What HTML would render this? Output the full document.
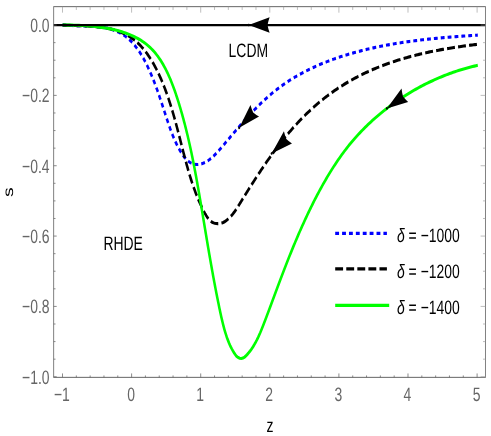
<!DOCTYPE html><html><head><meta charset="utf-8"><style>html,body{margin:0;padding:0;background:#fff}svg{display:block;will-change:transform}text{font-family:"Liberation Sans",sans-serif;text-rendering:geometricPrecision}</style></head><body>
<svg width="491" height="436" viewBox="0 0 491 436">
<rect width="491" height="436" fill="#fff"/>
<g transform="scale(0.8200 1)">
<path d="M76.34 25.00 L77.75 25.10 L79.18 25.20 L80.62 25.28 L82.08 25.35 L83.56 25.41 L85.05 25.47 L86.56 25.52 L88.08 25.56 L89.61 25.59 L91.16 25.63 L92.71 25.66 L94.28 25.68 L95.86 25.71 L97.44 25.74 L99.03 25.77 L100.63 25.80 L102.23 25.84 L103.84 25.88 L105.45 25.93 L107.06 25.98 L108.68 26.04 L110.30 26.11 L111.91 26.19 L113.53 26.28 L115.15 26.38 L116.76 26.50 L118.37 26.63 L119.97 26.77 L121.57 26.94 L123.17 27.12 L124.76 27.31 L126.33 27.53 L127.91 27.77 L129.47 28.03 L131.02 28.31 L132.56 28.62 L134.08 28.95 L135.60 29.30 L137.10 29.69 L138.58 30.10 L140.05 30.54 L141.51 31.01 L142.94 31.51 L144.36 32.05 L145.76 32.62 L147.13 33.22 L148.49 33.85 L149.83 34.53 L151.14 35.24 L152.43 35.99 L153.69 36.77 L154.94 37.59 L156.16 38.44 L157.36 39.32 L158.54 40.24 L159.71 41.18 L160.85 42.16 L161.97 43.16 L163.07 44.19 L164.15 45.25 L165.21 46.33 L166.25 47.44 L167.28 48.57 L168.29 49.72 L169.28 50.90 L170.25 52.09 L171.20 53.31 L172.14 54.54 L173.06 55.79 L173.97 57.06 L174.86 58.34 L175.73 59.64 L176.59 60.95 L177.43 62.27 L178.26 63.60 L179.08 64.95 L179.88 66.30 L180.67 67.66 L181.44 69.03 L182.20 70.41 L182.95 71.79 L183.69 73.17 L184.41 74.56 L185.12 75.95 L185.82 77.35 L186.51 78.74 L187.20 80.14 L187.87 81.54 L188.53 82.94 L189.18 84.35 L189.82 85.75 L190.46 87.16 L191.08 88.57 L191.70 89.98 L192.32 91.39 L192.92 92.81 L193.52 94.22 L194.12 95.64 L194.71 97.06 L195.30 98.48 L195.88 99.90 L196.46 101.32 L197.03 102.74 L197.61 104.17 L198.18 105.59 L198.74 107.01 L199.31 108.44 L199.88 109.86 L200.44 111.29 L201.01 112.72 L201.57 114.14 L202.14 115.57 L202.71 117.00 L203.28 118.42 L203.85 119.85 L204.42 121.28 L205.00 122.70 L205.59 124.12 L206.19 125.55 L206.79 126.96 L207.40 128.38 L208.02 129.79 L208.65 131.20 L209.30 132.61 L209.96 134.01 L210.64 135.40 L211.33 136.79 L212.03 138.17 L212.76 139.55 L213.50 140.92 L214.27 142.29 L215.05 143.64 L215.86 144.99 L216.69 146.33 L217.55 147.66 L218.43 148.99 L219.34 150.30 L220.27 151.60 L221.24 152.89 L222.23 154.15 L223.26 155.38 L224.33 156.57 L225.43 157.70 L226.56 158.78 L227.74 159.78 L228.96 160.71 L230.22 161.55 L231.53 162.29 L232.88 162.93 L234.27 163.47 L235.69 163.90 L237.14 164.21 L238.61 164.42 L240.10 164.51 L241.59 164.48 L243.09 164.33 L244.59 164.08 L246.09 163.74 L247.57 163.30 L249.05 162.77 L250.51 162.17 L251.95 161.51 L253.36 160.78 L254.75 160.00 L256.10 159.18 L257.42 158.31 L258.70 157.42 L259.95 156.49 L261.17 155.53 L262.37 154.55 L263.55 153.55 L264.71 152.53 L265.85 151.49 L266.98 150.44 L268.11 149.38 L269.22 148.31 L270.33 147.24 L271.44 146.16 L272.55 145.08 L273.67 144.01 L274.78 142.93 L275.89 141.85 L277.00 140.77 L278.11 139.69 L279.22 138.61 L280.33 137.53 L281.45 136.45 L282.56 135.37 L283.68 134.29 L284.79 133.22 L285.91 132.14 L287.03 131.06 L288.15 129.99 L289.27 128.92 L290.40 127.85 L291.52 126.78 L292.65 125.72 L293.78 124.66 L294.91 123.60 L296.04 122.54 L297.18 121.49 L298.32 120.44 L299.46 119.40 L300.61 118.35 L301.75 117.32 L302.90 116.28 L304.06 115.25 L305.21 114.23 L306.37 113.21 L307.54 112.20 L308.70 111.19 L309.87 110.19 L311.05 109.19 L312.23 108.20 L313.41 107.21 L314.60 106.23 L315.79 105.26 L316.99 104.29 L318.19 103.34 L319.39 102.38 L320.60 101.44 L321.82 100.50 L323.04 99.58 L324.26 98.66 L325.49 97.74 L326.73 96.84 L327.97 95.94 L329.22 95.06 L330.47 94.18 L331.73 93.31 L332.99 92.46 L334.27 91.61 L335.54 90.77 L336.83 89.94 L338.11 89.12 L339.41 88.31 L340.71 87.51 L342.02 86.71 L343.33 85.93 L344.65 85.16 L345.97 84.39 L347.30 83.64 L348.63 82.89 L349.97 82.15 L351.31 81.42 L352.66 80.70 L354.02 79.99 L355.38 79.29 L356.74 78.60 L358.11 77.91 L359.48 77.23 L360.86 76.56 L362.25 75.90 L363.63 75.25 L365.02 74.60 L366.42 73.97 L367.82 73.34 L369.22 72.72 L370.63 72.11 L372.05 71.50 L373.46 70.90 L374.88 70.31 L376.31 69.73 L377.73 69.16 L379.17 68.59 L380.60 68.03 L382.04 67.48 L383.48 66.93 L384.93 66.39 L386.37 65.86 L387.83 65.34 L389.28 64.82 L390.74 64.31 L392.20 63.80 L393.66 63.31 L395.13 62.82 L396.60 62.33 L398.07 61.86 L399.54 61.39 L401.02 60.92 L402.50 60.46 L403.98 60.01 L405.47 59.57 L406.95 59.13 L408.44 58.69 L409.93 58.27 L411.42 57.84 L412.92 57.43 L414.41 57.02 L415.91 56.61 L417.41 56.22 L418.91 55.82 L420.41 55.44 L421.91 55.05 L423.42 54.68 L424.93 54.30 L426.43 53.94 L427.94 53.58 L429.45 53.22 L430.96 52.87 L432.47 52.52 L433.98 52.18 L435.50 51.85 L437.01 51.52 L438.53 51.19 L440.04 50.87 L441.56 50.55 L443.07 50.24 L444.59 49.93 L446.10 49.62 L447.62 49.32 L449.14 49.03 L450.66 48.74 L452.18 48.45 L453.70 48.17 L455.22 47.89 L456.74 47.61 L458.26 47.34 L459.78 47.08 L461.30 46.81 L462.82 46.56 L464.35 46.30 L465.87 46.05 L467.39 45.80 L468.92 45.56 L470.44 45.32 L471.97 45.09 L473.49 44.85 L475.02 44.63 L476.54 44.40 L478.07 44.18 L479.60 43.96 L481.13 43.75 L482.65 43.54 L484.18 43.33 L485.71 43.13 L487.24 42.93 L488.77 42.73 L490.30 42.54 L491.83 42.34 L493.36 42.16 L494.89 41.97 L496.42 41.79 L497.96 41.61 L499.49 41.43 L501.02 41.26 L502.55 41.09 L504.09 40.92 L505.62 40.76 L507.16 40.60 L508.69 40.44 L510.23 40.28 L511.76 40.13 L513.30 39.98 L514.83 39.83 L516.37 39.68 L517.91 39.54 L519.44 39.39 L520.98 39.25 L522.52 39.12 L524.06 38.98 L525.59 38.85 L527.13 38.72 L528.67 38.59 L530.21 38.46 L531.75 38.34 L533.29 38.22 L534.83 38.10 L536.37 37.98 L537.91 37.86 L539.45 37.75 L540.99 37.64 L542.53 37.52 L544.07 37.41 L545.62 37.31 L547.16 37.20 L548.70 37.10 L550.24 36.99 L551.79 36.89 L553.33 36.79 L554.87 36.69 L556.41 36.59 L557.96 36.50 L559.50 36.40 L561.05 36.31 L562.59 36.22 L564.14 36.12 L565.68 36.03 L567.22 35.95 L568.77 35.86 L570.31 35.77 L571.86 35.68 L573.41 35.60 L574.95 35.51 L576.50 35.43 L578.04 35.35 L579.59 35.26 L581.14 35.18 L582.68 35.10" stroke="#0000ff" stroke-width="3.10" fill="none" stroke-dasharray="4.7 3.7"/>
<path d="M76.34 25.00 L77.92 25.08 L79.51 25.14 L81.13 25.21 L82.76 25.26 L84.41 25.32 L86.07 25.36 L87.75 25.41 L89.45 25.45 L91.15 25.50 L92.87 25.54 L94.60 25.59 L96.34 25.63 L98.09 25.68 L99.85 25.73 L101.62 25.79 L103.39 25.86 L105.17 25.93 L106.95 26.01 L108.74 26.09 L110.53 26.19 L112.33 26.30 L114.12 26.42 L115.91 26.55 L117.71 26.69 L119.50 26.85 L121.29 27.03 L123.08 27.22 L124.86 27.42 L126.64 27.65 L128.41 27.90 L130.17 28.16 L131.93 28.45 L133.67 28.75 L135.41 29.09 L137.13 29.44 L138.85 29.82 L140.55 30.23 L142.24 30.66 L143.91 31.12 L145.57 31.61 L147.21 32.13 L148.84 32.67 L150.45 33.26 L152.03 33.87 L153.60 34.51 L155.15 35.19 L156.68 35.91 L158.18 36.66 L159.66 37.45 L161.11 38.28 L162.54 39.14 L163.95 40.04 L165.33 40.98 L166.69 41.95 L168.03 42.95 L169.34 43.99 L170.63 45.06 L171.90 46.16 L173.14 47.28 L174.37 48.44 L175.57 49.63 L176.75 50.84 L177.91 52.07 L179.05 53.33 L180.17 54.62 L181.27 55.92 L182.35 57.25 L183.41 58.60 L184.45 59.97 L185.48 61.36 L186.48 62.76 L187.47 64.18 L188.44 65.62 L189.39 67.07 L190.32 68.54 L191.24 70.01 L192.14 71.50 L193.02 73.00 L193.89 74.51 L194.74 76.03 L195.58 77.56 L196.40 79.09 L197.21 80.63 L198.00 82.18 L198.78 83.73 L199.54 85.29 L200.29 86.85 L201.03 88.42 L201.75 89.99 L202.47 91.57 L203.17 93.15 L203.86 94.74 L204.53 96.33 L205.20 97.93 L205.86 99.53 L206.50 101.13 L207.14 102.74 L207.77 104.35 L208.39 105.97 L209.00 107.58 L209.60 109.20 L210.19 110.82 L210.77 112.45 L211.35 114.07 L211.92 115.70 L212.49 117.33 L213.05 118.96 L213.60 120.60 L214.14 122.23 L214.69 123.87 L215.22 125.50 L215.75 127.14 L216.28 128.77 L216.81 130.41 L217.33 132.05 L217.85 133.68 L218.36 135.32 L218.87 136.95 L219.39 138.59 L219.90 140.22 L220.40 141.85 L220.91 143.48 L221.42 145.11 L221.93 146.73 L222.43 148.36 L222.94 149.98 L223.45 151.60 L223.96 153.21 L224.47 154.83 L224.98 156.44 L225.50 158.04 L226.02 159.65 L226.54 161.25 L227.07 162.84 L227.59 164.43 L228.13 166.02 L228.67 167.61 L229.21 169.19 L229.76 170.76 L230.32 172.33 L230.88 173.90 L231.46 175.47 L232.04 177.03 L232.63 178.59 L233.23 180.15 L233.84 181.70 L234.47 183.26 L235.10 184.81 L235.75 186.35 L236.41 187.90 L237.09 189.44 L237.78 190.99 L238.49 192.53 L239.21 194.06 L239.94 195.60 L240.70 197.14 L241.47 198.67 L242.26 200.21 L243.07 201.74 L243.90 203.27 L244.75 204.81 L245.62 206.34 L246.51 207.87 L247.43 209.40 L248.37 210.93 L249.33 212.46 L250.32 213.98 L251.35 215.45 L252.43 216.86 L253.56 218.19 L254.76 219.42 L256.04 220.53 L257.39 221.48 L258.84 222.27 L260.38 222.88 L261.99 223.31 L263.66 223.56 L265.37 223.65 L267.10 223.57 L268.82 223.34 L270.53 222.95 L272.19 222.42 L273.80 221.75 L275.33 220.93 L276.76 219.99 L278.13 218.99 L279.48 217.95 L280.80 216.88 L282.07 215.77 L283.30 214.61 L284.49 213.41 L285.64 212.16 L286.76 210.88 L287.85 209.57 L288.92 208.23 L289.98 206.87 L291.02 205.51 L292.06 204.13 L293.09 202.75 L294.13 201.38 L295.16 200.00 L296.20 198.63 L297.24 197.25 L298.28 195.88 L299.32 194.51 L300.37 193.13 L301.41 191.76 L302.46 190.39 L303.51 189.02 L304.56 187.66 L305.61 186.29 L306.67 184.93 L307.72 183.57 L308.78 182.21 L309.85 180.85 L310.91 179.49 L311.98 178.14 L313.05 176.79 L314.12 175.44 L315.20 174.10 L316.28 172.75 L317.36 171.41 L318.45 170.08 L319.54 168.74 L320.63 167.41 L321.73 166.09 L322.83 164.76 L323.93 163.44 L325.04 162.12 L326.16 160.81 L327.27 159.50 L328.39 158.20 L329.52 156.90 L330.65 155.60 L331.78 154.31 L332.92 153.02 L334.07 151.74 L335.21 150.46 L336.37 149.19 L337.53 147.92 L338.69 146.66 L339.86 145.40 L341.04 144.15 L342.22 142.90 L343.40 141.66 L344.59 140.42 L345.79 139.19 L347.00 137.97 L348.21 136.75 L349.42 135.54 L350.64 134.34 L351.87 133.14 L353.11 131.94 L354.35 130.76 L355.60 129.58 L356.85 128.41 L358.11 127.24 L359.38 126.08 L360.66 124.93 L361.94 123.79 L363.23 122.65 L364.53 121.52 L365.83 120.40 L367.14 119.29 L368.46 118.18 L369.78 117.08 L371.11 115.99 L372.45 114.91 L373.79 113.83 L375.14 112.77 L376.50 111.71 L377.86 110.66 L379.23 109.62 L380.61 108.59 L381.99 107.56 L383.37 106.55 L384.77 105.54 L386.17 104.54 L387.57 103.56 L388.98 102.58 L390.40 101.61 L391.83 100.64 L393.25 99.69 L394.69 98.75 L396.13 97.82 L397.58 96.90 L399.03 95.98 L400.48 95.08 L401.95 94.19 L403.42 93.30 L404.89 92.43 L406.37 91.57 L407.85 90.71 L409.34 89.87 L410.83 89.04 L412.33 88.22 L413.84 87.40 L415.35 86.60 L416.86 85.81 L418.38 85.03 L419.90 84.25 L421.43 83.49 L422.97 82.74 L424.50 81.99 L426.05 81.26 L427.59 80.53 L429.14 79.82 L430.70 79.11 L432.26 78.42 L433.82 77.73 L435.39 77.05 L436.96 76.38 L438.54 75.72 L440.12 75.07 L441.70 74.42 L443.29 73.79 L444.88 73.16 L446.48 72.54 L448.08 71.94 L449.68 71.33 L451.29 70.74 L452.90 70.16 L454.51 69.58 L456.13 69.01 L457.75 68.46 L459.37 67.90 L461.00 67.36 L462.63 66.82 L464.26 66.30 L465.90 65.78 L467.54 65.26 L469.18 64.76 L470.82 64.26 L472.47 63.77 L474.12 63.29 L475.78 62.81 L477.43 62.34 L479.09 61.88 L480.75 61.43 L482.41 60.98 L484.08 60.54 L485.75 60.10 L487.42 59.68 L489.09 59.26 L490.76 58.84 L492.44 58.43 L494.12 58.03 L495.80 57.64 L497.48 57.25 L499.16 56.87 L500.85 56.49 L502.54 56.12 L504.23 55.76 L505.92 55.40 L507.61 55.05 L509.30 54.70 L511.00 54.36 L512.70 54.03 L514.39 53.70 L516.09 53.38 L517.79 53.06 L519.49 52.75 L521.20 52.44 L522.90 52.14 L524.60 51.84 L526.31 51.55 L528.02 51.26 L529.72 50.98 L531.43 50.70 L533.14 50.43 L534.85 50.16 L536.56 49.90 L538.27 49.64 L539.98 49.39 L541.69 49.14 L543.40 48.89 L545.11 48.65 L546.82 48.42 L548.53 48.19 L550.24 47.96 L551.95 47.73 L553.66 47.51 L555.38 47.30 L557.09 47.08 L558.80 46.88 L560.51 46.67 L562.22 46.47 L563.93 46.27 L565.63 46.08 L567.34 45.88 L569.05 45.70 L570.76 45.51 L572.46 45.33 L574.17 45.15 L575.87 44.97 L577.58 44.80 L579.28 44.63 L580.98 44.46 L582.68 44.30" stroke="#000" stroke-width="3.10" fill="none" stroke-dasharray="9.6 3.9"/>
<path d="M76.34 25.00 L78.68 25.03 L80.98 25.05 L83.26 25.08 L85.52 25.11 L87.76 25.15 L89.97 25.19 L92.17 25.24 L94.35 25.29 L96.52 25.36 L98.68 25.43 L100.82 25.51 L102.96 25.60 L105.09 25.71 L107.21 25.83 L109.34 25.96 L111.46 26.10 L113.58 26.27 L115.70 26.45 L117.83 26.64 L119.97 26.86 L122.11 27.09 L124.27 27.35 L126.43 27.63 L128.61 27.93 L130.81 28.25 L133.02 28.60 L135.24 28.97 L137.47 29.38 L139.71 29.81 L141.95 30.27 L144.19 30.76 L146.43 31.28 L148.66 31.83 L150.88 32.42 L153.09 33.05 L155.29 33.71 L157.47 34.41 L159.64 35.15 L161.78 35.93 L163.90 36.76 L165.99 37.62 L168.04 38.53 L170.07 39.48 L172.06 40.48 L174.01 41.53 L175.92 42.63 L177.79 43.78 L179.60 44.97 L181.37 46.22 L183.09 47.53 L184.77 48.88 L186.39 50.28 L187.97 51.72 L189.50 53.21 L191.00 54.75 L192.45 56.32 L193.86 57.94 L195.22 59.59 L196.56 61.28 L197.85 63.01 L199.11 64.76 L200.33 66.55 L201.52 68.37 L202.68 70.22 L203.80 72.10 L204.90 74.00 L205.96 75.92 L207.00 77.87 L208.01 79.83 L209.00 81.82 L209.96 83.82 L210.90 85.83 L211.82 87.86 L212.72 89.91 L213.59 91.96 L214.45 94.02 L215.30 96.09 L216.12 98.17 L216.94 100.24 L217.73 102.32 L218.52 104.41 L219.29 106.49 L220.05 108.58 L220.80 110.67 L221.53 112.77 L222.25 114.86 L222.97 116.96 L223.66 119.06 L224.35 121.16 L225.03 123.27 L225.70 125.37 L226.35 127.48 L227.00 129.59 L227.63 131.71 L228.26 133.82 L228.87 135.94 L229.48 138.06 L230.08 140.18 L230.66 142.30 L231.24 144.42 L231.82 146.55 L232.38 148.68 L232.94 150.81 L233.49 152.94 L234.03 155.07 L234.56 157.20 L235.09 159.34 L235.61 161.48 L236.12 163.61 L236.63 165.75 L237.14 167.89 L237.63 170.04 L238.13 172.18 L238.61 174.33 L239.10 176.47 L239.58 178.62 L240.05 180.77 L240.52 182.92 L240.99 185.07 L241.45 187.22 L241.91 189.38 L242.37 191.53 L242.82 193.68 L243.27 195.84 L243.72 198.00 L244.17 200.15 L244.62 202.31 L245.06 204.47 L245.50 206.63 L245.95 208.79 L246.39 210.95 L246.83 213.11 L247.27 215.28 L247.71 217.44 L248.15 219.60 L248.59 221.76 L249.03 223.93 L249.47 226.09 L249.91 228.25 L250.35 230.42 L250.79 232.58 L251.23 234.75 L251.67 236.91 L252.12 239.08 L252.56 241.24 L253.00 243.40 L253.45 245.57 L253.90 247.73 L254.35 249.90 L254.80 252.06 L255.25 254.22 L255.71 256.38 L256.17 258.55 L256.63 260.71 L257.09 262.87 L257.55 265.03 L258.02 267.19 L258.49 269.35 L258.96 271.50 L259.44 273.66 L259.91 275.82 L260.40 277.97 L260.88 280.13 L261.37 282.28 L261.86 284.43 L262.36 286.58 L262.86 288.73 L263.36 290.88 L263.87 293.03 L264.38 295.17 L264.90 297.32 L265.42 299.46 L265.95 301.60 L266.48 303.74 L267.01 305.88 L267.55 308.02 L268.10 310.16 L268.65 312.29 L269.21 314.42 L269.78 316.55 L270.37 318.67 L270.97 320.78 L271.59 322.88 L272.23 324.98 L272.89 327.06 L273.58 329.14 L274.30 331.20 L275.05 333.24 L275.84 335.27 L276.66 337.28 L277.53 339.28 L278.46 341.25 L279.44 343.22 L280.48 345.16 L281.59 347.09 L282.78 349.00 L284.05 350.89 L285.41 352.76 L286.87 354.58 L288.47 356.22 L290.27 357.50 L292.26 358.29 L294.32 358.51 L296.34 358.10 L298.24 357.08 L300.03 355.71 L301.73 354.23 L303.36 352.68 L304.91 351.08 L306.39 349.44 L307.80 347.74 L309.16 346.00 L310.45 344.22 L311.70 342.40 L312.89 340.55 L314.04 338.67 L315.15 336.76 L316.22 334.82 L317.27 332.87 L318.28 330.89 L319.27 328.91 L320.24 326.91 L321.20 324.91 L322.14 322.90 L323.08 320.89 L324.01 318.88 L324.94 316.87 L325.86 314.86 L326.78 312.86 L327.70 310.85 L328.61 308.84 L329.52 306.84 L330.43 304.83 L331.33 302.82 L332.24 300.82 L333.15 298.81 L334.05 296.81 L334.96 294.81 L335.86 292.80 L336.77 290.80 L337.68 288.80 L338.59 286.80 L339.51 284.80 L340.42 282.80 L341.34 280.80 L342.26 278.80 L343.19 276.80 L344.12 274.80 L345.05 272.81 L345.99 270.81 L346.92 268.82 L347.87 266.83 L348.81 264.84 L349.76 262.85 L350.72 260.87 L351.68 258.89 L352.64 256.90 L353.61 254.92 L354.58 252.95 L355.56 250.97 L356.55 249.00 L357.53 247.03 L358.53 245.06 L359.53 243.10 L360.53 241.14 L361.54 239.18 L362.56 237.23 L363.58 235.27 L364.61 233.33 L365.65 231.38 L366.69 229.44 L367.74 227.50 L368.80 225.57 L369.86 223.64 L370.93 221.71 L372.01 219.79 L373.09 217.87 L374.18 215.95 L375.28 214.04 L376.39 212.14 L377.51 210.24 L378.63 208.34 L379.76 206.45 L380.91 204.57 L382.06 202.68 L383.21 200.81 L384.38 198.94 L385.56 197.07 L386.75 195.21 L387.94 193.36 L389.15 191.51 L390.36 189.66 L391.58 187.83 L392.82 186.00 L394.06 184.17 L395.32 182.36 L396.59 180.55 L397.86 178.75 L399.15 176.95 L400.45 175.17 L401.76 173.39 L403.08 171.63 L404.41 169.87 L405.76 168.13 L407.12 166.39 L408.49 164.67 L409.87 162.95 L411.26 161.25 L412.67 159.56 L414.09 157.88 L415.52 156.22 L416.97 154.57 L418.43 152.93 L419.90 151.30 L421.39 149.69 L422.89 148.09 L424.41 146.51 L425.94 144.95 L427.49 143.39 L429.05 141.86 L430.62 140.34 L432.21 138.83 L433.81 137.34 L435.43 135.86 L437.05 134.40 L438.70 132.96 L440.35 131.53 L442.02 130.11 L443.70 128.71 L445.40 127.32 L447.10 125.95 L448.82 124.59 L450.55 123.25 L452.29 121.92 L454.05 120.60 L455.81 119.30 L457.59 118.01 L459.38 116.74 L461.17 115.48 L462.98 114.23 L464.80 112.99 L466.63 111.77 L468.47 110.57 L470.32 109.37 L472.17 108.19 L474.04 107.02 L475.92 105.87 L477.80 104.73 L479.70 103.60 L481.60 102.48 L483.51 101.38 L485.43 100.30 L487.36 99.22 L489.30 98.16 L491.25 97.12 L493.20 96.08 L495.16 95.06 L497.13 94.06 L499.11 93.07 L501.09 92.09 L503.08 91.13 L505.08 90.18 L507.09 89.25 L509.10 88.32 L511.12 87.42 L513.14 86.52 L515.18 85.65 L517.21 84.78 L519.26 83.93 L521.31 83.10 L523.36 82.28 L525.43 81.47 L527.49 80.68 L529.57 79.90 L531.64 79.14 L533.73 78.39 L535.81 77.65 L537.91 76.93 L540.00 76.23 L542.10 75.54 L544.21 74.87 L546.32 74.21 L548.43 73.56 L550.55 72.93 L552.67 72.32 L554.80 71.72 L556.93 71.13 L559.06 70.56 L561.19 70.01 L563.33 69.47 L565.47 68.94 L567.62 68.43 L569.76 67.94 L571.91 67.46 L574.06 67.00 L576.21 66.55 L578.37 66.12 L580.52 65.70 L582.68 65.30" stroke="#00ff00" stroke-width="3.10" fill="none"/>
<path d="M65.49 25.05 L591.95 25.05" stroke="#000" stroke-width="2.30" fill="none"/>
<g transform="translate(303.29 25.05) rotate(180.00)"><path d="M0 0 L-25.50 -7.80 Q-23.71 -3.51 -22.95 0 Q-23.71 3.51 -25.50 7.80 Z" fill="#000"/><circle r="1.3" fill="#000"/></g>
<g transform="translate(291.71 127.80) rotate(138.00)"><path d="M0 0 L-25.50 -7.80 Q-23.71 -3.51 -22.95 0 Q-23.71 3.51 -25.50 7.80 Z" fill="#000"/><circle r="1.3" fill="#000"/></g>
<g transform="translate(331.34 153.40) rotate(141.00)"><path d="M0 0 L-25.50 -7.80 Q-23.71 -3.51 -22.95 0 Q-23.71 3.51 -25.50 7.80 Z" fill="#000"/><circle r="1.3" fill="#000"/></g>
<g transform="translate(471.83 108.41) rotate(148.98)"><path d="M0 0 L-25.50 -7.80 Q-23.71 -3.51 -22.95 0 Q-23.71 3.51 -25.50 7.80 Z" fill="#000"/><circle r="1.3" fill="#000"/></g>
<rect x="65.49" y="6.65" width="526.46" height="370.70" fill="none" stroke="#666" stroke-width="1"/>
<path d="M76.22 377.35 v-3.90 M93.07 377.35 v-1.90 M109.93 377.35 v-1.90 M126.78 377.35 v-1.90 M143.63 377.35 v-1.90 M160.49 377.35 v-3.90 M177.34 377.35 v-1.90 M194.20 377.35 v-1.90 M211.05 377.35 v-1.90 M227.90 377.35 v-1.90 M244.76 377.35 v-3.90 M261.61 377.35 v-1.90 M278.46 377.35 v-1.90 M295.32 377.35 v-1.90 M312.17 377.35 v-1.90 M329.02 377.35 v-3.90 M345.88 377.35 v-1.90 M362.73 377.35 v-1.90 M379.59 377.35 v-1.90 M396.44 377.35 v-1.90 M413.29 377.35 v-3.90 M430.15 377.35 v-1.90 M447.00 377.35 v-1.90 M463.85 377.35 v-1.90 M480.71 377.35 v-1.90 M497.56 377.35 v-3.90 M514.41 377.35 v-1.90 M531.27 377.35 v-1.90 M548.12 377.35 v-1.90 M564.98 377.35 v-1.90 M581.83 377.35 v-3.90 M65.49 25.05 h3.66 M65.49 42.64 h2.20 M65.49 60.22 h2.20 M65.49 77.81 h2.20 M65.49 95.39 h3.66 M65.49 112.97 h2.20 M65.49 130.56 h2.20 M65.49 148.15 h2.20 M65.49 165.73 h3.66 M65.49 183.31 h2.20 M65.49 200.90 h2.20 M65.49 218.49 h2.20 M65.49 236.07 h3.66 M65.49 253.66 h2.20 M65.49 271.24 h2.20 M65.49 288.82 h2.20 M65.49 306.41 h3.66 M65.49 324.00 h2.20 M65.49 341.58 h2.20 M65.49 359.17 h2.20 M65.49 376.75 h3.66" stroke="#606060" stroke-width="0.8" fill="none"/>
<path d="M76.22 6.65 v6.00 M93.07 6.65 v3.30 M109.93 6.65 v3.30 M126.78 6.65 v3.30 M143.63 6.65 v3.30 M160.49 6.65 v6.00 M177.34 6.65 v3.30 M194.20 6.65 v3.30 M211.05 6.65 v3.30 M227.90 6.65 v3.30 M244.76 6.65 v6.00 M261.61 6.65 v3.30 M278.46 6.65 v3.30 M295.32 6.65 v3.30 M312.17 6.65 v3.30 M329.02 6.65 v6.00 M345.88 6.65 v3.30 M362.73 6.65 v3.30 M379.59 6.65 v3.30 M396.44 6.65 v3.30 M413.29 6.65 v6.00 M430.15 6.65 v3.30 M447.00 6.65 v3.30 M463.85 6.65 v3.30 M480.71 6.65 v3.30 M497.56 6.65 v6.00 M514.41 6.65 v3.30 M531.27 6.65 v3.30 M548.12 6.65 v3.30 M564.98 6.65 v3.30 M581.83 6.65 v6.00 M591.95 25.05 h-5.85 M591.95 42.64 h-2.93 M591.95 60.22 h-2.93 M591.95 77.81 h-2.93 M591.95 95.39 h-5.85 M591.95 112.97 h-2.93 M591.95 130.56 h-2.93 M591.95 148.15 h-2.93 M591.95 165.73 h-5.85 M591.95 183.31 h-2.93 M591.95 200.90 h-2.93 M591.95 218.49 h-2.93 M591.95 236.07 h-5.85 M591.95 253.66 h-2.93 M591.95 271.24 h-2.93 M591.95 288.82 h-2.93 M591.95 306.41 h-5.85 M591.95 324.00 h-2.93 M591.95 341.58 h-2.93 M591.95 359.17 h-2.93 M591.95 376.75 h-5.85" stroke="#999" stroke-width="0.7" fill="none"/>
</g>
<text transform="translate(61.90 400.80) scale(0.7186 1)" font-size="19.4" fill="#666" text-anchor="middle">−1</text>
<text transform="translate(131.00 400.80) scale(0.7186 1)" font-size="19.4" fill="#666" text-anchor="middle">0</text>
<text transform="translate(200.10 400.80) scale(0.7186 1)" font-size="19.4" fill="#666" text-anchor="middle">1</text>
<text transform="translate(269.20 400.80) scale(0.7186 1)" font-size="19.4" fill="#666" text-anchor="middle">2</text>
<text transform="translate(338.30 400.80) scale(0.7186 1)" font-size="19.4" fill="#666" text-anchor="middle">3</text>
<text transform="translate(407.40 400.80) scale(0.7186 1)" font-size="19.4" fill="#666" text-anchor="middle">4</text>
<text transform="translate(476.50 400.80) scale(0.7186 1)" font-size="19.4" fill="#666" text-anchor="middle">5</text>
<text transform="translate(49.60 32.05) scale(0.7186 1)" font-size="19.4" fill="#666" text-anchor="end">0.0</text>
<text transform="translate(49.60 102.39) scale(0.7186 1)" font-size="19.4" fill="#666" text-anchor="end">−0.2</text>
<text transform="translate(49.60 172.73) scale(0.7186 1)" font-size="19.4" fill="#666" text-anchor="end">−0.4</text>
<text transform="translate(49.60 243.07) scale(0.7186 1)" font-size="19.4" fill="#666" text-anchor="end">−0.6</text>
<text transform="translate(49.60 313.41) scale(0.7186 1)" font-size="19.4" fill="#666" text-anchor="end">−0.8</text>
<text transform="translate(49.60 383.75) scale(0.7186 1)" font-size="19.4" fill="#666" text-anchor="end">−1.0</text>
<text transform="translate(228.60 56.80) scale(0.7186 1)" font-size="19.4" fill="#000" text-anchor="start">LCDM</text>
<text transform="translate(103.40 249.60) scale(0.7186 1)" font-size="19.4" fill="#000" text-anchor="start">RHDE</text>
<text transform="translate(269.90 431.50) scale(0.7186 1)" font-size="19.4" fill="#000" text-anchor="middle">z</text>
<text transform="translate(13.20 192.20) scale(0.7186 1) rotate(-90)" font-size="19.4" fill="#000" text-anchor="middle">s</text>
<g transform="scale(0.8200 1)">
<path d="M408.78 233.30 L471.83 233.30" stroke="#0000ff" stroke-width="3.2" fill="none" stroke-dasharray="4.7 3.7"/>
<path d="M408.78 268.90 L471.83 268.90" stroke="#000" stroke-width="3.2" fill="none" stroke-dasharray="9.6 3.9"/>
<path d="M408.78 305.30 L474.63 305.30" stroke="#00ff00" stroke-width="3.2" fill="none"/>
</g>
<text transform="translate(397.00 242.00) scale(0.7186 1)" font-size="19.4" fill="#000" text-anchor="start"><tspan font-style="italic">δ</tspan> = −1000</text>
<text transform="translate(397.00 277.60) scale(0.7186 1)" font-size="19.4" fill="#000" text-anchor="start"><tspan font-style="italic">δ</tspan> = −1200</text>
<text transform="translate(397.00 314.00) scale(0.7186 1)" font-size="19.4" fill="#000" text-anchor="start"><tspan font-style="italic">δ</tspan> = −1400</text>
</svg></body></html>
